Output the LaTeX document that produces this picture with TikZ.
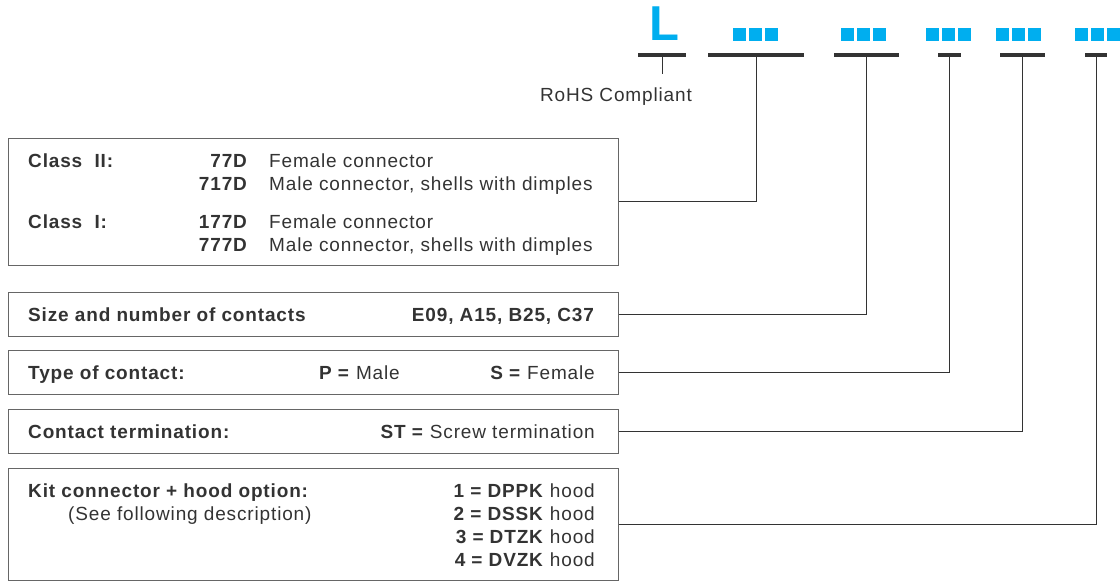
\documentclass[tikz,border=0pt]{standalone}
\usepackage{fontspec}
\setmainfont{Liberation Sans}[LetterSpace=4.5]
\definecolor{inkgray}{HTML}{333333}
\definecolor{boxgray}{HTML}{666666}
\definecolor{codeblue}{HTML}{00AEEF}

\begin{document}
\begin{tikzpicture}[x=1pt,y=-1pt,
  font=\fontsize{19pt}{23pt}\selectfont, text=inkgray,
  infobox/.style={draw=boxgray,line width=1pt,minimum width=610pt,inner sep=0pt},
  txt/.style={inner sep=0pt},
  codebar/.style={fill=inkgray,minimum height=4pt,inner sep=0pt},
  leader/.style={draw=inkgray,line width=0.9pt}]

\useasboundingbox (0,0) rectangle (1120,581);

% order code
\node (lett)	at (649.5,40)	[txt,anchor=base west,text=codeblue,font=\fontsize{49pt}{49pt}\selectfont\bfseries] {L};
\foreach \cx in {755,863,948,1018.5,1097.5}
  \foreach \dx in {-16,0,16}
    \fill [codeblue] (\cx+\dx-6.5,28) rectangle ++(13,13);

\node (rohsbar)	at (662,55)	[codebar,minimum width=48pt] {};
\node (clsbar)	at (756,55)	[codebar,minimum width=96pt] {};
\node (sizebar)	at (866.5,55)	[codebar,minimum width=65pt] {};
\node (typebar)	at (949.5,55)	[codebar,minimum width=23pt] {};
\node (termbar)	at (1022.5,55)	[codebar,minimum width=45pt] {};
\node (kitbar)	at (1096,55)	[codebar,minimum width=22pt] {};

\node (rohs)	at (616,101)	[txt,anchor=base] {RoHS Compliant};
\coordinate (rohstick) at (662,74);

% boxes
\node (clsbox)	at (313,201.5)	[infobox,minimum height=127pt] {};
\node (sizebox)	at (313,314)	[infobox,minimum height=44pt] {};
\node (typebox)	at (313,372)	[infobox,minimum height=44pt] {};
\node (termbox)	at (313,431)	[infobox,minimum height=44pt] {};
\node (kitbox)	at (313,524.25)	[infobox,minimum height=112.5pt] {};

% class box
\node (cls2)	at (28,167)	[txt,anchor=base west] {\textbf{Class\ \ II:}};
\node (cls1)	at (28,228)	[txt,anchor=base west] {\textbf{Class\ \ I:}};
\node (code77)	at (248,167)	[txt,anchor=base east] {\textbf{77D}};
\node (code717)	at (248,190.5)	[txt,anchor=base east] {\textbf{717D}};
\node (code177)	at (248,228)	[txt,anchor=base east] {\textbf{177D}};
\node (code777)	at (248,251.5)	[txt,anchor=base east] {\textbf{777D}};
\node (desc77)	at (269,167)	[txt,anchor=base west] {Female connector};
\node (desc717)	at (269,190.5)	[txt,anchor=base west] {Male connector, shells with dimples};
\node (desc177)	at (269,228)	[txt,anchor=base west] {Female connector};
\node (desc777)	at (269,251.5)	[txt,anchor=base west] {Male connector, shells with dimples};

% size box
\node (sizelbl)	at (28,321)	[txt,anchor=base west] {\textbf{Size and number of contacts}};
\node (sizeval)	at (595,321)	[txt,anchor=base east] {\textbf{E09, A15, B25, C37}};

% type box
\node (typelbl)	at (28,379)	[txt,anchor=base west] {\textbf{Type of contact:}};
\node (typem)	at (400,379)	[txt,anchor=base east] {\textbf{P =} Male};
\node (typef)	at (595,379)	[txt,anchor=base east] {\textbf{S =} Female};

% termination box
\node (termlbl)	at (28,438)	[txt,anchor=base west] {\textbf{Contact termination:}};
\node (termval)	at (595,438)	[txt,anchor=base east] {\textbf{ST =} Screw termination};

% kit box
\node (kitlbl)	at (28,497)	[txt,anchor=base west] {\textbf{Kit connector + hood option:}};
\node (kitsee)	at (68,520)	[txt,anchor=base west] {(See following description)};
\node (kit1)	at (595,497)	[txt,anchor=base east] {\textbf{1 = DPPK} hood};
\node (kit2)	at (595,520)	[txt,anchor=base east] {\textbf{2 = DSSK} hood};
\node (kit3)	at (595,543)	[txt,anchor=base east] {\textbf{3 = DTZK} hood};
\node (kit4)	at (595,566)	[txt,anchor=base east] {\textbf{4 = DVZK} hood};

% leaders
\draw [leader] (rohsbar.south) -- (rohstick);
\draw [leader] (clsbox.east) -| (clsbar.south);
\draw [leader] (sizebox.east) -| (sizebar.south);
\draw [leader] (typebox.east) -| (typebar.south);
\draw [leader] (termbox.east) -| (termbar.south);
\draw [leader] (kitbox.east) -| (kitbar.south);

\end{tikzpicture}
\end{document}
